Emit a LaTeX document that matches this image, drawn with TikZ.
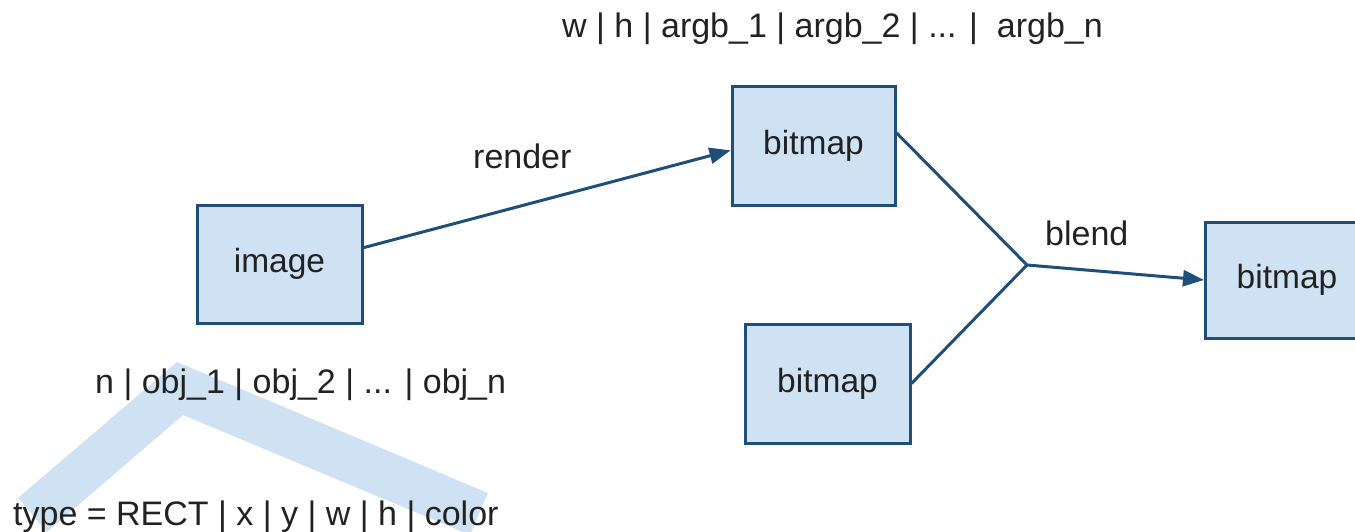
\documentclass[tikz,border=0pt]{standalone}
\usepackage{fontspec}
\setmainfont{Liberation Sans}
\usetikzlibrary{arrows.meta}
\definecolor{boxfill}{HTML}{CFE2F3}
\definecolor{navy}{HTML}{1F4E79}
\definecolor{inktext}{HTML}{222222}
\tikzset{
  box/.style={draw=navy, fill=boxfill, line width=3pt, minimum width=163pt, minimum height=118pt, inner sep=0pt, text=inktext, font=\fontsize{33.5}{40}\selectfont},
  lbl/.style={inner sep=0pt, anchor=base west, text=inktext, font=\fontsize{34}{40}\selectfont},
  conn/.style={draw=navy, line width=3pt},
  arr/.style={conn, -{Triangle[length=21pt,width=16pt]}},
  band/.style={fill=boxfill, draw=none}
}
\begin{document}
\begin{tikzpicture}[x=1pt,y=-1pt]
\useasboundingbox (0,0) rectangle (1355,532);
% light blue band
\fill[band] (18,498) -- (177,362) -- (488,493) -- (470,535) -- (183,415) -- (47,532) -- cycle;
% boxes
\node[box, minimum width=165pt] (img) at (279.5,264) {image};
\node[box] (bm1) at (813.5,146) {bitmap};
\node[box, minimum width=165pt, minimum height=119pt] (bm2) at (827.5,383.5) {bitmap};
\node[box, minimum height=116pt] (bm3) at (1287,280) {bitmap};
\coordinate (j) at (1027,265);
% connectors
\draw[arr] (img.11) -- (bm1.183);
\draw[conn] (bm1.9) -- (j);
\draw[conn] (bm2.east) -- (j);
\draw[arr] (j) -- (bm3.west);
% labels
\node[lbl] (top) at (562,38) {w | h | argb\_1 | argb\_2 | ... | \ argb\_n};
\node[lbl] (render) at (473,168) {render};
\node[lbl] (blend) at (1045,245) {blend};
\node[lbl] (objs) at (95,393) {n | obj\_1 | obj\_2 | ... | obj\_n};
\node[lbl] (rect) at (13,525) {type = RECT | x | y | w | h | color};
\end{tikzpicture}
\end{document}
